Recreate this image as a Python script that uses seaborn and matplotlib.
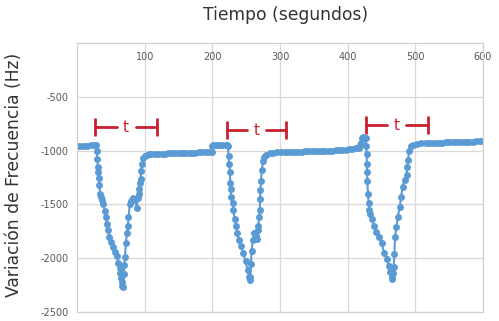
import numpy as np
import pandas as pd
import matplotlib
matplotlib.use("Agg")
import matplotlib.pyplot as plt
import seaborn as sns

# Event 1 (0-222 s)
time_a = [0, 5, 10, 15, 20, 25, 28, 29, 30, 31, 31.5, 32, 33, 34, 35, 37, 39, 41, 43, 44, 46, 48, 50, 53, 56, 59, 61, 63, 64, 65, 66, 67,
          68, 69, 70, 71, 72, 74, 75, 76, 78, 80, 83, 86, 88, 90, 91, 92, 93, 94, 95, 96, 98, 100, 103, 107,
          110, 115, 120, 125, 130, 135, 140, 145, 150, 155, 160, 165, 170, 175, 180, 185, 190, 195, 199,
          200, 201, 205, 210, 215, 220, 222]
freq_a = [-955, -955, -955, -955, -952, -950, -950, -1000, -1080, -1150, -1200, -1250, -1320, -1400, -1430, -1460, -1500, -1560, -1620, -1680, -1740, -1800, -1850, -1900, -1940, -1980, -2040, -2090, -2140, -2180, -2220, -2260,
          -2270, -2150, -2060, -1990, -1860, -1770, -1700, -1620, -1500, -1470, -1440, -1460, -1530, -1440, -1400, -1360, -1300, -1260, -1190, -1120, -1070, -1050, -1040, -1035,
          -1032, -1030, -1030, -1028, -1027, -1026, -1025, -1024, -1023, -1022, -1021, -1020, -1019, -1018, -1017, -1016, -1015, -1013, -1010,
          -960, -950, -950, -950, -948, -948, -945]

# Event 2 (223-416 s)
time_b = [223, 224, 225, 226, 226.5, 227, 228, 230, 231, 233, 235, 237, 239, 242, 246, 249, 252, 254, 255,
          256, 257, 258, 260, 262, 264, 266, 267, 268, 269, 270, 270.5, 271, 272, 273, 275, 277, 280, 285, 290, 296,
          302, 307, 312, 317, 322, 327, 332, 337, 342, 347, 352, 357, 362, 367, 372, 377, 382, 387, 392, 397, 402, 407, 412, 416]
freq_b = [-960, -1050, -1120, -1200, -1300, -1360, -1430, -1490, -1550, -1640, -1700, -1770, -1830, -1890, -1950, -2030, -2110, -2170, -2200,
          -2170, -2050, -1930, -1830, -1770, -1790, -1820, -1740, -1700, -1620, -1550, -1450, -1370, -1280, -1180, -1100, -1060, -1040, -1025, -1018, -1012,
          -1012, -1012, -1011, -1011, -1010, -1010, -1009, -1008, -1007, -1006, -1005, -1004, -1003, -1002, -1000, -999, -997, -995, -992, -990, -987, -984, -980, -975]

# Event 3 (418-600 s)
time_c = [418, 420, 421, 423, 425, 427, 427.5, 428, 428.5, 428.8, 429, 430, 431, 432, 433, 436, 439, 442, 446, 450, 454, 458, 461, 463, 465, 466,
          467, 468, 469, 470, 472, 474, 477, 479, 481, 484, 487, 488, 489, 491, 494, 497, 502, 509,
          515, 520, 525, 530, 535, 540, 545, 550, 555, 560, 565, 570, 575, 580, 585, 590, 595, 600]
freq_c = [-950, -930, -880, -870, -880, -885, -960, -1030, -1120, -1200, -1280, -1400, -1490, -1550, -1590, -1640, -1700, -1760, -1800, -1860, -1950, -2010, -2070, -2130, -2170, -2190,
          -2140, -2080, -1960, -1800, -1710, -1620, -1520, -1430, -1340, -1270, -1230, -1150, -1090, -1000, -960, -945, -938, -933,
          -930, -929, -928, -927, -926, -925, -924, -923, -922, -921, -920, -919, -918, -917, -916, -915, -914, -913]

# "t" duration brackets: start, end, level
t_start = [27, 221, 427]
t_end = [118, 309, 518]
t_level = [-781, -809, -762]

x_ticks = [100, 200, 300, 400, 500, 600]
y_ticks = [-500, -1000, -1500, -2000, -2500]

df = pd.DataFrame({
    "Tiempo": time_a + time_b + time_c,
    "Frecuencia": freq_a + freq_b + freq_c,
})

sns.set_theme(style="whitegrid")
plt.rcParams["font.family"] = ["DejaVu Sans"]
plt.rcParams["axes.unicode_minus"] = False

fig = plt.figure(figsize=(4.99, 3.21), dpi=100)
ax = fig.add_axes([0.1543, 0.028, 0.8137, 0.838])

blue = "#5b9bd5"
red = "#c8202f"

sns.lineplot(data=df, x="Tiempo", y="Frecuencia", sort=False, estimator=None,
             color=blue, linewidth=1.5, marker="o", markersize=5,
             markeredgewidth=0, ax=ax)

# duration brackets
half_h = 85
gap = 14
for s, e, lv in zip(t_start, t_end, t_level):
    mid = (s + e) / 2
    ax.plot([s, s], [lv - half_h, lv + half_h], color=red, lw=2, solid_capstyle="butt")
    ax.plot([e, e], [lv - half_h, lv + half_h], color=red, lw=2, solid_capstyle="butt")
    ax.plot([s, mid - gap], [lv, lv], color=red, lw=2)
    ax.plot([mid + gap, e], [lv, lv], color=red, lw=2)
    ax.text(mid, lv, "t", color=red, fontsize=11, ha="center", va="center")

ax.set_xlim(0, 600)
ax.set_ylim(-2500, 0)
ax.set_xticks(x_ticks)
ax.set_yticks(y_ticks)
ax.xaxis.tick_top()
ax.tick_params(axis="x", pad=-14, labelsize=7, colors="#595959", length=0)
ax.tick_params(axis="y", pad=6, labelsize=7, colors="#595959", length=0)

ax.grid(True, color="#d9d9d9", linewidth=0.9)
for sp in ax.spines.values():
    sp.set_color("#d0d0d0")
    sp.set_linewidth(0.9)

ax.set_xlabel("")
ax.set_ylabel("")
fig.text(0.573, 0.953, "Tiempo (segundos)", ha="center", va="center", fontsize=12.3, color="#333333")
fig.text(0.028, 0.455, "Variación de Frecuencia (Hz)", ha="center", va="center",
         rotation=90, fontsize=12.3, color="#333333")

fig.savefig("out.png", dpi=100)
